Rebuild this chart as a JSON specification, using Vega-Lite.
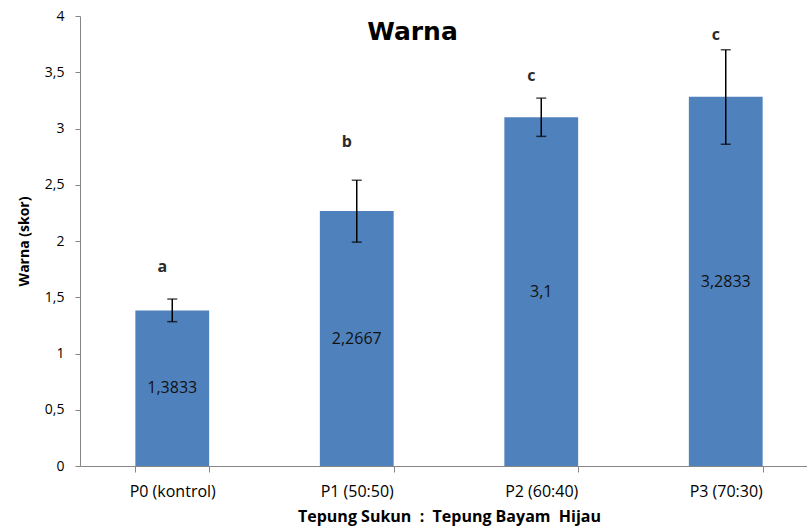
{
  "$schema": "https://vega.github.io/schema/vega-lite/v6.json",
  "width": 727,
  "height": 450,
  "autosize": {"type": "none"},
  "padding": {"left": 80, "top": 16, "right": 0, "bottom": 63},
  "background": "white",
  "config": {
    "view": {"stroke": null},
    "font": "Open Sans",
    "locale": {"number": {"decimal": ",", "thousands": ".", "grouping": [3], "currency": ["", ""]}}
  },
  "title": {
    "text": "Warna",
    "font": "DejaVu Sans",
    "fontSize": 25,
    "fontWeight": "bold",
    "color": "black",
    "anchor": "middle",
    "frame": "group",
    "dx": -31,
    "dy": 31,
    "baseline": "alphabetic",
    "offset": -25
  },
  "data": {
    "values": [
      {"perlakuan": "P0 (kontrol)", "value": 1.3833, "lo": 1.283, "hi": 1.484, "huruf": "a", "hurufY": 1.77, "labelY": 0.69},
      {"perlakuan": "P1 (50:50)", "value": 2.2667, "lo": 1.99, "hi": 2.54, "huruf": "b", "hurufY": 2.88, "labelY": 1.13},
      {"perlakuan": "P2 (60:40)", "value": 3.1, "lo": 2.93, "hi": 3.27, "huruf": "c", "hurufY": 3.47, "labelY": 1.55},
      {"perlakuan": "P3 (70:30)", "value": 3.2833, "lo": 2.86, "hi": 3.70, "huruf": "c", "hurufY": 3.83, "labelY": 1.64}
    ]
  },
  "encoding": {
    "x": {
      "field": "perlakuan",
      "type": "nominal",
      "sort": null,
      "scale": {"range": [0, 738], "paddingInner": 0.6, "paddingOuter": 0.3},
      "axis": {
        "title": "Tepung Sukun\u00a0 :\u00a0 Tepung Bayam\u00a0 Hijau",
        "titleFont": "Open Sans",
        "titleFontSize": 16,
        "titleFontWeight": "bold",
        "titleColor": "black",
        "titlePadding": 9,
        "labelAngle": 0,
        "labelFont": "Open Sans",
        "labelFontSize": 16,
        "labelColor": "black",
        "labelPadding": 11,
        "tickBand": "extent",
        "tickSize": 6,
        "tickColor": "#868686",
        "domainColor": "#868686",
        "grid": false
      }
    }
  },
  "layer": [
    {
      "mark": {"type": "bar", "color": "#4F81BD"},
      "encoding": {
        "y": {
          "field": "value",
          "type": "quantitative",
          "title": "Warna (skor)",
          "scale": {"domain": [0, 4], "nice": false},
          "axis": {
            "titleFont": "Open Sans",
            "titleFontSize": 14,
            "titleFontWeight": "bold",
            "titleColor": "black",
            "titlePadding": 13,
            "values": [0, 0.5, 1, 1.5, 2, 2.5, 3, 3.5, 4],
            "format": ".1~f",
            "labelFont": "Open Sans",
            "labelFontSize": 14,
            "labelColor": "black",
            "labelPadding": 11,
            "tickSize": 5,
            "tickColor": "#868686",
            "domainColor": "#868686",
            "grid": false
          }
        }
      }
    },
    {
      "mark": {"type": "errorbar", "ticks": {"size": 10, "color": "black", "thickness": 1.5}, "rule": {"color": "black", "strokeWidth": 1.5}},
      "encoding": {
        "y": {"field": "lo", "type": "quantitative", "title": "Warna (skor)"},
        "y2": {"field": "hi"}
      }
    },
    {
      "mark": {"type": "text", "font": "Open Sans", "fontSize": 16, "color": "#111111", "baseline": "middle"},
      "encoding": {
        "y": {"field": "labelY", "type": "quantitative", "title": "Warna (skor)"},
        "text": {"field": "value", "type": "quantitative", "format": ".4~f"}
      }
    },
    {
      "mark": {"type": "text", "font": "Open Sans", "fontSize": 16, "fontWeight": "bold", "color": "#2b2b2b", "baseline": "middle", "dx": -10},
      "encoding": {
        "y": {"field": "hurufY", "type": "quantitative", "title": "Warna (skor)"},
        "text": {"field": "huruf", "type": "nominal"}
      }
    }
  ]
}
